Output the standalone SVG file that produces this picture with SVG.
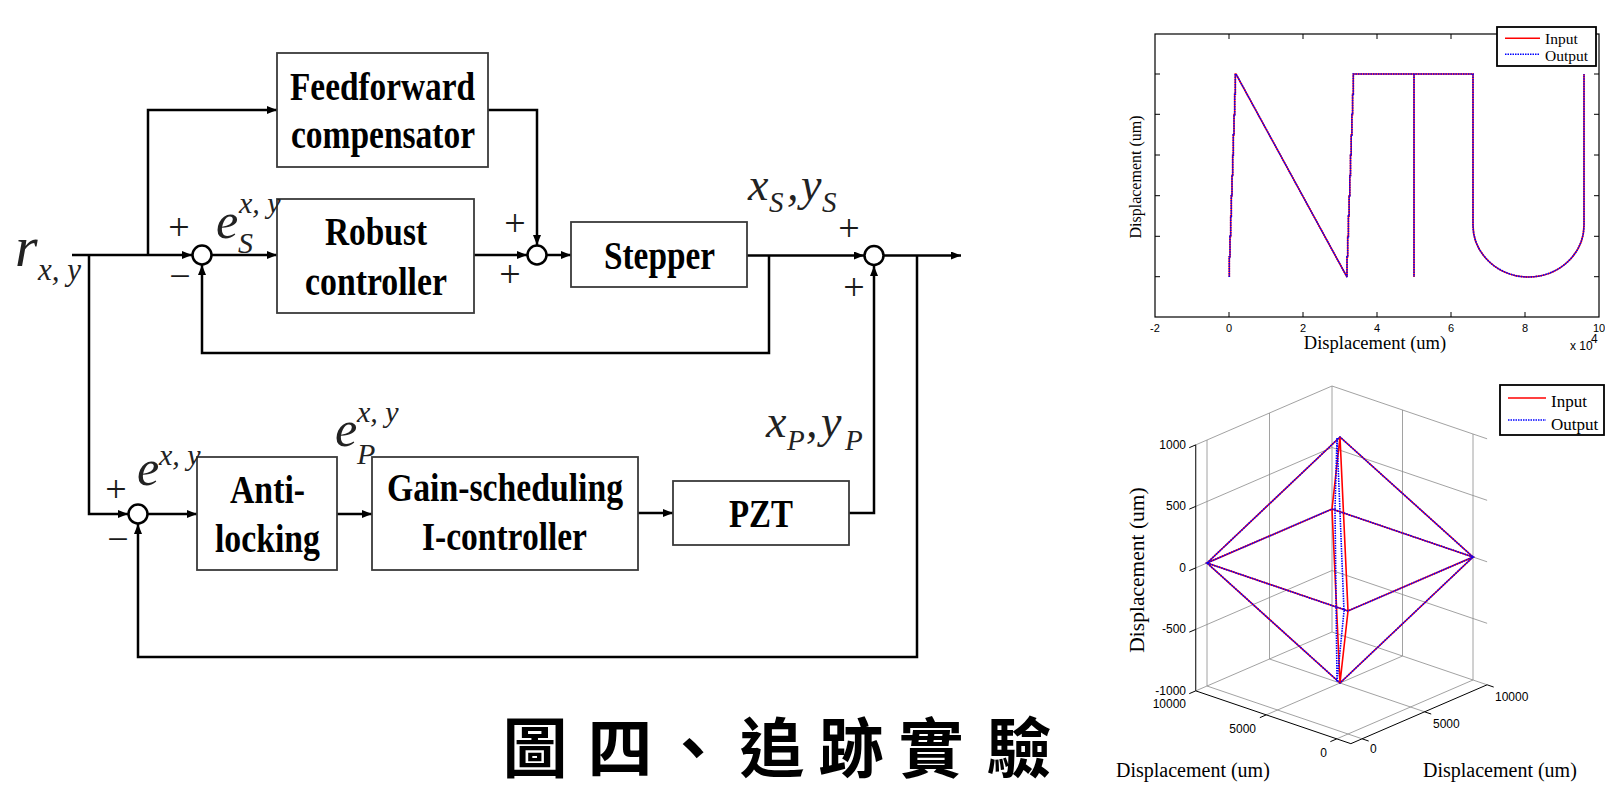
<svg xmlns="http://www.w3.org/2000/svg" width="1605" height="791" viewBox="0 0 1605 791">
<style>
.ln{fill:none;stroke:#000;stroke-width:2.5}
.box{fill:#fff;stroke:#3a3a3a;stroke-width:1.8}
.sum{fill:#fff;stroke:#000;stroke-width:2.5}
.bt{font-family:"Liberation Serif","Times New Roman",serif;font-weight:bold;font-size:39px;text-anchor:middle;fill:#000}
.mi{font-family:"Liberation Serif","Times New Roman",serif;font-style:italic;fill:#222}
.sg{font-family:"Liberation Serif","Times New Roman",serif;font-size:38px;text-anchor:middle;fill:#1a1a1a}
.grid{stroke:#8a8a8a;stroke-width:0.8;fill:none}
.ax{stroke:#000;stroke-width:1;fill:none}
.tk{font-family:"Liberation Sans",Arial,sans-serif;font-size:12px;fill:#000}
.lab{font-family:"Liberation Serif","Times New Roman",serif;fill:#000}
.red{stroke:#f00;fill:none;stroke-width:1.6}
.blue{stroke:#00f;fill:none;stroke-width:1.6;stroke-dasharray:1.5 1}
.leg{fill:#fff;stroke:#000;stroke-width:1.8}
.title{font-family:"Noto Sans CJK TC","Noto Sans CJK SC",sans-serif;font-weight:bold;font-size:65px;text-anchor:middle;fill:#000}
</style>
<defs>
<marker id="arr" markerUnits="userSpaceOnUse" markerWidth="10" markerHeight="8" refX="10" refY="4" orient="auto">
<path d="M0,0 L10,4 L0,8 z" fill="#000"/>
</marker>
</defs>
<rect width="1605" height="791" fill="#fff"/>

<g id="connectors">
<path class="ln" d="M72,255 H192" marker-end="url(#arr)"/>
<path class="ln" d="M148,255 V110 H277" marker-end="url(#arr)"/>
<path class="ln" d="M211.5,255 H277" marker-end="url(#arr)"/>
<path class="ln" d="M488,110 H537 V245" marker-end="url(#arr)"/>
<path class="ln" d="M474,255 H527" marker-end="url(#arr)"/>
<path class="ln" d="M546.5,255 H571" marker-end="url(#arr)"/>
<path class="ln" d="M747,255.5 H864" marker-end="url(#arr)"/>
<path class="ln" d="M769,255.5 V353 H202 V265" marker-end="url(#arr)"/>
<path class="ln" d="M883.5,255.5 H961" marker-end="url(#arr)"/>
<path class="ln" d="M917,255.5 V657 H138 V524" marker-end="url(#arr)"/>
<path class="ln" d="M89,255 V514 H128" marker-end="url(#arr)"/>
<path class="ln" d="M147.5,514 H197" marker-end="url(#arr)"/>
<path class="ln" d="M337,514 H372" marker-end="url(#arr)"/>
<path class="ln" d="M638,513 H673" marker-end="url(#arr)"/>
<path class="ln" d="M849,513 H874 V266" marker-end="url(#arr)"/>
</g>

<g id="feedforward"><rect class="box" x="277" y="53" width="211" height="114"/>
<text class="bt" x="382.5" y="100" textLength="185" lengthAdjust="spacingAndGlyphs">Feedforward</text>
<text class="bt" x="383" y="148" textLength="184" lengthAdjust="spacingAndGlyphs">compensator</text></g>
<g id="robust"><rect class="box" x="277" y="199" width="197" height="114"/>
<text class="bt" x="376" y="245" textLength="102" lengthAdjust="spacingAndGlyphs">Robust</text>
<text class="bt" x="376" y="295" textLength="142" lengthAdjust="spacingAndGlyphs">controller</text></g>
<g id="stepper"><rect class="box" x="571" y="222" width="176" height="65"/>
<text class="bt" x="659.5" y="269" textLength="111" lengthAdjust="spacingAndGlyphs">Stepper</text></g>
<g id="antilocking"><rect class="box" x="197" y="457" width="140" height="113"/>
<text class="bt" x="267.5" y="503" textLength="75" lengthAdjust="spacingAndGlyphs">Anti-</text>
<text class="bt" x="267.5" y="552" textLength="105" lengthAdjust="spacingAndGlyphs">locking</text></g>
<g id="gain"><rect class="box" x="372" y="457" width="266" height="113"/>
<text class="bt" x="505" y="501" textLength="236" lengthAdjust="spacingAndGlyphs">Gain-scheduling</text>
<text class="bt" x="504.5" y="550" textLength="165" lengthAdjust="spacingAndGlyphs">I-controller</text></g>
<g id="pzt"><rect class="box" x="673" y="481" width="176" height="64"/>
<text class="bt" x="761" y="527" textLength="64" lengthAdjust="spacingAndGlyphs">PZT</text></g>

<g id="sum1"><circle class="sum" cx="202" cy="255" r="9.5"/>
<text class="sg" x="179" y="240">+</text><text class="sg" x="180" y="289">−</text></g>
<g id="sum2"><circle class="sum" cx="537" cy="255" r="9.5"/>
<text class="sg" x="515" y="236">+</text><text class="sg" x="510" y="287">+</text></g>
<g id="sum3"><circle class="sum" cx="874" cy="255.5" r="9.5"/>
<text class="sg" x="849" y="241" font-size="34">+</text><text class="sg" x="854" y="300">+</text></g>
<g id="sum4"><circle class="sum" cx="138" cy="514" r="9.5"/>
<text class="sg" x="116" y="502">+</text><text class="sg" x="118" y="552">−</text></g>

<g id="labels">
<text class="mi" x="15" y="266" font-size="58">r</text>
<text class="mi" x="38" y="280" font-size="31">x, y</text>
<text class="mi" x="216" y="238" font-size="50">e</text>
<text class="mi" x="239" y="213" font-size="30">x, y</text>
<text class="mi" x="238" y="253" font-size="30">S</text>
<text class="mi" x="137" y="485" font-size="50">e</text>
<text class="mi" x="159" y="465" font-size="30">x, y</text>
<text class="mi" x="335" y="446" font-size="50">e</text>
<text class="mi" x="357" y="422" font-size="30">x, y</text>
<text class="mi" x="357" y="464" font-size="30">P</text>
<text class="mi" x="748" y="200" font-size="46">x</text>
<text class="mi" x="769" y="212" font-size="29">S</text>
<text class="mi" x="787" y="200" font-size="46">,</text>
<text class="mi" x="801" y="200" font-size="46">y</text>
<text class="mi" x="822" y="212" font-size="29">S</text>
<text class="mi" x="766" y="437" font-size="46">x</text>
<text class="mi" x="787" y="450" font-size="29">P</text>
<text class="mi" x="806" y="437" font-size="46">,</text>
<text class="mi" x="821" y="437" font-size="46">y</text>
<text class="mi" x="845" y="450" font-size="29">P</text>
</g>

<g id="plot2d">
<rect x="1155" y="34" width="444" height="283" fill="#fff" stroke="#000" stroke-width="1.2"/>
<path class="ax" d="M1229,317 v-5 M1303,317 v-5 M1377,317 v-5 M1451,317 v-5 M1525,317 v-5 M1229,34 v5 M1303,34 v5 M1377,34 v5 M1451,34 v5 M1525,34 v5 M1155,74 h5 M1155,114.3 h5 M1155,155 h5 M1155,195.7 h5 M1155,236.3 h5 M1155,276.7 h5 M1599,74 h-5 M1599,114.3 h-5 M1599,155 h-5 M1599,195.7 h-5 M1599,236.3 h-5 M1599,276.7 h-5"/>
<g class="tk" text-anchor="middle">
<text x="1155" y="332" font-size="11">-2</text><text x="1229" y="332" font-size="11">0</text><text x="1303" y="332" font-size="11">2</text><text x="1377" y="332" font-size="11">4</text><text x="1451" y="332" font-size="11">6</text><text x="1525" y="332" font-size="11">8</text><text x="1599" y="332" font-size="11">10</text>
</g>
<text class="tk" x="1570" y="350" font-size="9">x 10</text>
<text class="tk" x="1591" y="343" font-size="7">4</text>
<text class="lab" x="1375" y="349" font-size="18.5" text-anchor="middle">Displacement (um)</text>
<text class="lab" font-size="16" text-anchor="middle" transform="translate(1141,177) rotate(-90)">Displacement (um)</text>
<path class="red" d="M1229.3,277 V256.7 H1230 V236.4 H1230.7 V216.1 H1231.3 V195.8 H1232 V175.5 H1232.7 V155.2 H1233.3 V134.9 H1234 V114.6 H1234.7 V94.3 H1235.3 V74 H1236 L1347,277 V256.7 H1347.7 V236.4 H1348.4 V216.1 H1349.1 V195.8 H1349.8 V175.5 H1350.5 V155.2 H1351.2 V134.9 H1351.9 V114.6 H1352.6 V94.3 H1353.3 V74 H1473 V225 A55.5,52 0 0 0 1584,225 V74 M1414,74 V277"/>
<path class="blue" d="M1229.3,277 V256.7 H1230 V236.4 H1230.7 V216.1 H1231.3 V195.8 H1232 V175.5 H1232.7 V155.2 H1233.3 V134.9 H1234 V114.6 H1234.7 V94.3 H1235.3 V74 H1236 L1347,277 V256.7 H1347.7 V236.4 H1348.4 V216.1 H1349.1 V195.8 H1349.8 V175.5 H1350.5 V155.2 H1351.2 V134.9 H1351.9 V114.6 H1352.6 V94.3 H1353.3 V74 H1473 V225 A55.5,52 0 0 0 1584,225 V74 M1414,74 V277"/>
<rect class="leg" x="1497" y="27" width="99" height="39"/>
<path class="red" d="M1505,38.3 H1540"/>
<path class="blue" d="M1505,54.3 H1540"/>
<text class="lab" x="1545" y="43.5" font-size="15.5">Input</text>
<text class="lab" x="1545" y="61" font-size="15.5">Output</text>
</g>

<g id="plot3d">
<path class="grid" d="M1195.75,444.86 L1332,386 M1195.75,506.36 L1332,447.5 M1195.75,567.86 L1332,509 M1195.75,629.36 L1332,570.5 M1195.75,690.86 L1332,632 M1207,440 V686 M1269.5,413 V659 M1332,386 V632 M1332,386 L1487.1,438.8 M1332,447.5 L1487.1,500.3 M1332,509 L1487.1,561.8 M1332,570.5 L1487.1,623.3 M1332,632 L1487.1,684.8 M1402.5,410 V656 M1473,434 V680 M1362.1,738.8 L1207,686 M1424.6,711.8 L1269.5,659 M1336.75,738.86 L1473,680 M1266.25,714.86 L1402.5,656"/>
<path class="ax" d="M1195.75,444.86 V690.86 L1350.85,743.66 L1487.1,684.8"/>
<path class="ax" d="M1195.75,444.86 l-6.5,2.8 M1195.75,506.36 l-6.5,2.8 M1195.75,567.86 l-6.5,2.8 M1195.75,629.36 l-6.5,2.8 M1195.75,690.86 l-6.5,2.8 M1336.75,738.86 l-6.4,2.8 M1266.25,714.86 l-6.4,2.8 M1362.1,738.8 l6.6,2.25 M1424.6,711.8 l6.6,2.25 M1487.1,684.8 l6.6,2.25"/>
<g class="tk" text-anchor="end">
<text x="1186" y="448.5">1000</text><text x="1186" y="510">500</text><text x="1186" y="571.5">0</text><text x="1186" y="633">-500</text><text x="1186" y="694.5">-1000</text>
<text x="1186" y="708">10000</text><text x="1256" y="733">5000</text><text x="1327" y="757">0</text>
</g>
<g class="tk">
<text x="1370" y="753">0</text><text x="1433" y="728">5000</text><text x="1495" y="701">10000</text>
</g>
<path class="red" stroke-width="1.8" d="M1207,563 L1340,437 L1473,557 L1340,683 Z M1207,563 L1348,611 L1473,557 L1332,509 Z M1340,437 L1348,611 L1340,683 L1332,509 Z"/>
<path class="blue" stroke-width="2" d="M1207,563 L1340,437 L1473,557 L1340,683 Z M1207,563 L1348,611 L1473,557 L1332,509 Z M1337,438 L1344,611 L1337,682 L1335,509 Z"/>
<text class="lab" x="1116" y="777" font-size="20">Displacement (um)</text>
<text class="lab" x="1423" y="777" font-size="20">Displacement (um)</text>
<text class="lab" font-size="21.5" text-anchor="middle" transform="translate(1144,570) rotate(-90)">Displacement (um)</text>
<rect class="leg" x="1500" y="385" width="104" height="50"/>
<path class="red" d="M1508,398 H1546"/>
<path class="blue" d="M1508,420 H1546"/>
<text class="lab" x="1551" y="407" font-size="17">Input</text>
<text class="lab" x="1551" y="430" font-size="17">Output</text>
</g>

<g id="title">
<text class="title" x="535 620 693 772 851 931 1019" y="772">圖四、追跡實驗</text>
</g>
</svg>
